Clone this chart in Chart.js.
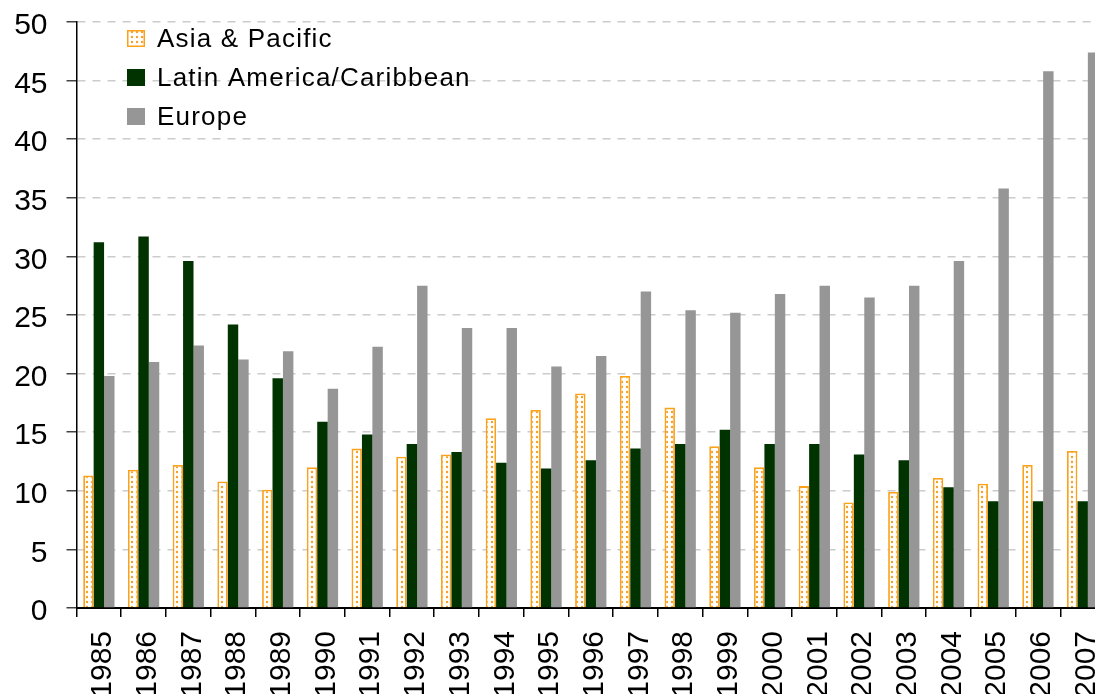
<!DOCTYPE html>
<html>
<head>
  <meta name="viewport" content="width=device-width, initial-scale=1.0">
  <title>Asia, Latin America, Europe</title>
  <script src="https://cdn.jsdelivr.net/npm/chart.js"></script>
  <style>
    html, body {
      margin: 0;
      padding: 0;
      background: white;
      overflow: hidden;
    }
    #wrap {
      width: 1105px;
      height: 694px;
    }
  </style>
</head>
<body>
  <div id="wrap"><canvas id="chart"></canvas></div>

  <script>
    // data
    const years = ['1985','1986','1987','1988','1989','1990','1991','1992','1993','1994','1995','1996',
                   '1997','1998','1999','2000','2001','2002','2003','2004','2005','2006','2007'];
    const asiaPacific = [11.3, 11.8, 12.2, 10.8, 10.1, 12.0, 13.6, 12.9, 13.1, 16.2, 16.9, 18.3,
                         19.8, 17.1, 13.8, 12.0, 10.4, 9.0, 9.9, 11.1, 10.6, 12.2, 13.4];
    const latinAmerica = [31.2, 31.7, 29.6, 24.2, 19.6, 15.9, 14.8, 14.0, 13.3, 12.4, 11.9, 12.6,
                          13.6, 14.0, 15.2, 14.0, 14.0, 13.1, 12.6, 10.3, 9.1, 9.1, 9.1];
    const europe = [19.8, 21.0, 22.4, 21.2, 21.9, 18.7, 22.3, 27.5, 23.9, 23.9, 20.6, 21.5,
                    27.0, 25.4, 25.2, 26.8, 27.5, 26.5, 27.5, 29.6, 35.8, 45.8, 47.4];
    const yTicks = [0, 5, 10, 15, 20, 25, 30, 35, 40, 45, 50];

    const FONT = "'Liberation Sans', Arial, sans-serif";

    // dotted fill for Asia & Pacific
    function dotPattern() {
      const c = document.createElement('canvas');
      c.width = 5; c.height = 5;
      const g = c.getContext('2d');
      g.fillStyle = '#ffffff';
      g.fillRect(0, 0, 5, 5);
      g.fillStyle = '#f5a02a';
      g.beginPath(); g.arc(2, 2, 1.2, 0, Math.PI * 2); g.fill();
      return g.createPattern(c, 'repeat');
    }
    const asiaFill = dotPattern();

    // legend drawn inside the plot, top left
    const insideLegend = {
      id: 'insideLegend',
      afterDraw(chart) {
        const ctx = chart.ctx;
        const items = chart.data.datasets;
        ctx.save();
        ctx.font = '26px ' + FONT;
        ctx.letterSpacing = '1.2px';
        ctx.textBaseline = 'middle';
        items.forEach((ds, i) => {
          const y = 39 + i * 39;
          const x = 127;
          ctx.fillStyle = ds.backgroundColor;
          ctx.fillRect(x, y - 9, 18, 17);
          if (ds.borderWidth) {
            ctx.strokeStyle = ds.borderColor;
            ctx.lineWidth = 1.5;
            ctx.strokeRect(x + 0.75, y - 8.25, 16.5, 15.5);
          }
          ctx.fillStyle = '#000';
          ctx.fillText(ds.label, 157, y + 1);
        });
        ctx.restore();
      }
    };

    const ctx = document.getElementById('chart').getContext('2d');
    const chart = new Chart(ctx, {
      type: 'bar',
      data: {
        labels: years,
        datasets: [
          {
            label: 'Asia & Pacific',
            data: asiaPacific,
            backgroundColor: asiaFill,
            borderColor: '#fba21c',
            borderWidth: 1.8,
            borderSkipped: 'bottom'
          },
          {
            label: 'Latin America/Caribbean',
            data: latinAmerica,
            backgroundColor: '#003300',
            borderWidth: 0
          },
          {
            label: 'Europe',
            data: europe,
            backgroundColor: '#969696',
            borderWidth: 0
          }
        ]
      },
      options: {
        responsive: true,
        maintainAspectRatio: false,
        animation: false,
        datasets: {
          bar: { categoryPercentage: 0.7, barPercentage: 1.0 }
        },
        layout: { padding: { left: 0, right: 0, top: 22, bottom: 0 } },
        plugins: {
          legend: { display: false },
          tooltip: { enabled: false }
        },
        scales: {
          x: {
            offset: true,
            grid: {
              display: true,
              offset: true,
              drawOnChartArea: false,
              tickLength: 9,
              tickColor: '#000',
              lineWidth: 1.5
            },
            border: { display: true, color: '#000', width: 2 },
            ticks: {
              color: '#000',
              font: { family: FONT, size: 30 },
              minRotation: 90,
              maxRotation: 90,
              padding: 14,
              labelOffset: 4,
              autoSkip: false
            },
            afterFit(scale) {
              scale.height = 86;
              scale.paddingLeft = 0;
              scale.paddingRight = 0;
            }
          },
          y: {
            min: 0,
            max: 50,
            afterBuildTicks(scale) {
              scale.ticks = yTicks.map(v => ({ value: v }));
            },
            grid: {
              color: '#cccccc',
              lineWidth: 1.5,
              tickLength: 10,
              tickColor: '#444',
              tickBorderDash: []
            },
            border: { display: true, color: '#000', width: 1.5, dash: [8, 7] },
            ticks: {
              color: '#000',
              font: { family: FONT, size: 30 },
              padding: 19,
              labelOffset: 4
            },
            afterFit(scale) {
              scale.width = 76.5;
              scale.paddingTop = 0;
              scale.paddingBottom = 0;
            }
          }
        }
      },
      plugins: [insideLegend]
    });
  </script>
</body>
</html>
